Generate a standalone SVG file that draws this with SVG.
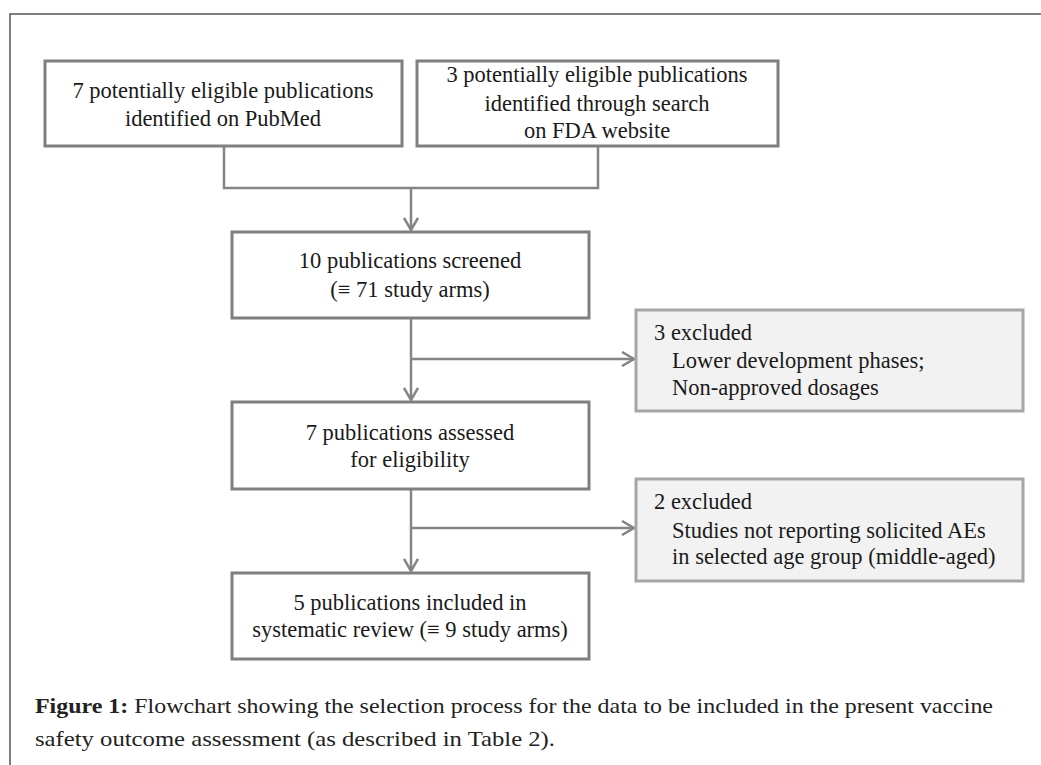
<svg xmlns="http://www.w3.org/2000/svg" width="1041" height="765" viewBox="0 0 1041 765">
<style>
.box{fill:#ffffff;stroke:#7f7f7f;stroke-width:3}
.ex{fill:#f2f2f2;stroke:#a6a6a6;stroke-width:3}
.t{font-family:"Liberation Serif","Times New Roman",serif;font-size:22.5px;fill:#1a1a1a}
.c{text-anchor:middle}
.cap{font-family:"Liberation Serif","Times New Roman",serif;font-size:22px;fill:#222}
.ln{fill:none;stroke:#858585;stroke-width:2.5}
</style>
<defs>
<marker id="arr" markerWidth="16" markerHeight="16" refX="13" refY="8" orient="auto" markerUnits="userSpaceOnUse">
<path d="M1,1 L13,8 L1,15" fill="none" stroke="#858585" stroke-width="2.5"/>
</marker>
</defs>
<rect width="1041" height="765" fill="#ffffff"/>
<path d="M10,765 L10,14 L1041,14" fill="none" stroke="#555" stroke-width="1.5"/>

<g id="connectors">
<path class="ln" d="M224,146 L224,188 L598,188 L598,146"/>
<path class="ln" d="M411,188 L411,230" marker-end="url(#arr)"/>
<path class="ln" d="M411,318 L411,400" marker-end="url(#arr)"/>
<path class="ln" d="M411,359 L634,359" marker-end="url(#arr)"/>
<path class="ln" d="M411,489 L411,571" marker-end="url(#arr)"/>
<path class="ln" d="M411,528 L634,528" marker-end="url(#arr)"/>
</g>

<g id="n1">
<rect class="box" x="45" y="61" width="357" height="85"/>
<text class="t c" x="223" y="98" textLength="301">7 potentially eligible publications</text>
<text class="t c" x="223" y="126">identified  on PubMed</text>
</g>
<g id="n2">
<rect class="box" x="417" y="61" width="361" height="85"/>
<text class="t c" x="597" y="82" textLength="301">3 potentially eligible publications</text>
<text class="t c" x="597" y="111">identified through search</text>
<text class="t c" x="597" y="138">on FDA website</text>
</g>
<g id="n3">
<rect class="box" x="232" y="232" width="357" height="86"/>
<text class="t c" x="410" y="268">10 publications screened</text>
<text class="t c" x="410" y="297">(≡ 71 study arms)</text>
</g>
<g id="n4">
<rect class="ex" x="636" y="310" width="387" height="101"/>
<text class="t" x="654" y="340">3 excluded</text>
<text class="t" x="672" y="368">Lower development phases;</text>
<text class="t" x="672" y="395">Non-approved dosages</text>
</g>
<g id="n5">
<rect class="box" x="232" y="402" width="357" height="87"/>
<text class="t c" x="410" y="440">7 publications assessed</text>
<text class="t c" x="410" y="467">for eligibility</text>
</g>
<g id="n6">
<rect class="ex" x="636" y="479" width="387" height="102"/>
<text class="t" x="654" y="509">2 excluded</text>
<text class="t" x="672" y="538">Studies not reporting solicited AEs</text>
<text class="t" x="672" y="564">in selected age group (middle-aged)</text>
</g>
<g id="n7">
<rect class="box" x="232" y="573" width="357" height="86"/>
<text class="t c" x="410" y="610">5 publications included in</text>
<text class="t c" x="410" y="637">systematic review (≡ 9 study arms)</text>
</g>

<g id="caption">
<text class="cap" x="35" y="713" textLength="958" lengthAdjust="spacingAndGlyphs"><tspan font-weight="bold">Figure 1:</tspan> Flowchart showing the selection process for the data to be included in the present vaccine</text>
<text class="cap" x="35" y="746" textLength="520" lengthAdjust="spacingAndGlyphs">safety outcome assessment (as described in Table 2).</text>
</g>
</svg>
